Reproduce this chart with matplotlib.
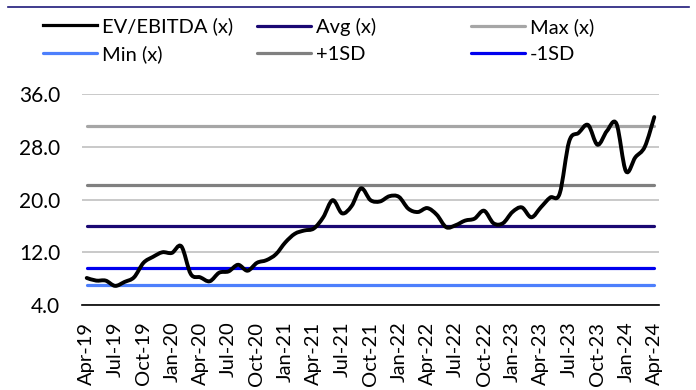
import matplotlib
matplotlib.use("Agg")
import matplotlib.pyplot as plt
from matplotlib.lines import Line2D
from matplotlib.path import Path
from matplotlib.patches import PathPatch

plt.rcParams['font.family'] = ['Lato', 'DejaVu Sans']

# ---- data ----
tick_labels = ["Apr-19", "Jul-19", "Oct-19", "Jan-20", "Apr-20", "Jul-20", "Oct-20",
               "Jan-21", "Apr-21", "Jul-21", "Oct-21", "Jan-22", "Apr-22", "Jul-22",
               "Oct-22", "Jan-23", "Apr-23", "Jul-23", "Oct-23", "Jan-24", "Apr-24"]

ev_ebitda = [8.1, 7.7, 7.7, 6.9, 7.5, 8.2, 10.4, 11.3, 12.0, 11.9,
             12.9, 8.7, 8.2, 7.6, 8.9, 9.1, 10.1, 9.2, 10.4, 10.8,
             11.7, 13.5, 14.8, 15.3, 15.6, 17.3, 19.9, 17.9, 19.0, 21.7,
             19.9, 19.7, 20.5, 20.4, 18.6, 18.1, 18.7, 17.7, 15.8, 16.1,
             16.8, 17.1, 18.3, 16.4, 16.4, 18.1, 18.8, 17.3, 18.8, 20.3,
             20.9, 28.8, 30.1, 31.3, 28.3, 30.4, 31.5, 24.3, 26.4, 28.0,
             32.5]
avg_x = 16.0
max_x = 31.2
min_x = 7.0
plus_1sd = 22.2
minus_1sd = 9.6

n = len(ev_ebitda)
x = list(range(n))

c_ev = "#000000"
c_avg = "#1a0873"
c_max = "#a6a6a6"
c_min = "#4d7ffc"
c_p1 = "#808080"
c_m1 = "#0000ee"

fig = plt.figure(figsize=(6.96, 3.90), dpi=100)
ax = fig.add_axes([82/696, 1-305/390, (659-82)/696, (305-94)/390])

lw_ref = 2.3
l_max, = ax.plot(x, [max_x]*n, color=c_max, lw=lw_ref, solid_capstyle='round', zorder=3)
l_p1, = ax.plot(x, [plus_1sd]*n, color=c_p1, lw=lw_ref, solid_capstyle='round', zorder=3)
l_avg, = ax.plot(x, [avg_x]*n, color=c_avg, lw=lw_ref, solid_capstyle='round', zorder=3)
l_m1, = ax.plot(x, [minus_1sd]*n, color=c_m1, lw=lw_ref, solid_capstyle='round', zorder=3)
l_min, = ax.plot(x, [min_x]*n, color=c_min, lw=lw_ref, solid_capstyle='round', zorder=3)

# smoothed line (Excel-style smoothing: Catmull-Rom as cubic Bezier)
verts = [(x[0], ev_ebitda[0])]
codes = [Path.MOVETO]
for i in range(n - 1):
    p0 = (x[max(i-1, 0)], ev_ebitda[max(i-1, 0)])
    p1 = (x[i], ev_ebitda[i])
    p2 = (x[i+1], ev_ebitda[i+1])
    p3 = (x[min(i+2, n-1)], ev_ebitda[min(i+2, n-1)])
    c1 = (p1[0] + (p2[0]-p0[0])/6, p1[1] + (p2[1]-p0[1])/6)
    c2 = (p2[0] - (p3[0]-p1[0])/6, p2[1] - (p3[1]-p1[1])/6)
    verts += [c1, c2, p2]
    codes += [Path.CURVE4]*3
ev_patch = PathPatch(Path(verts, codes), facecolor='none', edgecolor=c_ev, lw=2.8,
                     joinstyle='round', capstyle='round', zorder=5)
ax.add_patch(ev_patch)
l_ev = Line2D([], [], color=c_ev)

ax.set_xlim(-0.5, n - 0.5)
ax.set_ylim(4, 36)
ax.set_yticks([4, 12, 20, 28, 36])
ax.set_yticklabels(["4.0", "12.0", "20.0", "28.0", "36.0"])
ax.yaxis.grid(True, color="#c0c0c0", lw=1.2)
ax.set_axisbelow(True)
ax.set_xticks(list(range(0, n, 3)))
ax.set_xticklabels(tick_labels, rotation=90)
for s in ["top", "right", "left"]:
    ax.spines[s].set_visible(False)
ax.spines["bottom"].set_color("black")
ax.spines["bottom"].set_linewidth(1.2)
ax.tick_params(axis='y', length=0, pad=15.8, labelsize=15)
ax.tick_params(axis='x', length=0, pad=12, labelsize=14.5)

# title rule at top
fig.add_artist(Line2D([8/696, 689/696], [1-7.3/390, 1-7.3/390], color="#1f1a7a", lw=1.2,
                      transform=fig.transFigure))

# legends (three columns)
fs = 14.5
def mk(handles, labels, xpx):
    leg = fig.legend(handles, labels, loc="center left",
                     bbox_to_anchor=(xpx/696, 1-40.5/390), frameon=False,
                     fontsize=fs, handlelength=2.68, handletextpad=0.25,
                     borderpad=0, borderaxespad=0, labelspacing=0.5,
                     alignment="left")
    for h in leg.get_lines():
        h.set_linewidth(2.3)
    return leg

mk([l_ev, l_min], ["EV/EBITDA (x)", "Min (x)"], 43)
mk([l_avg, l_p1], ["Avg (x)", "+1SD"], 257)
mk([l_max, l_m1], ["Max (x)", "-1SD"], 471)

fig.savefig("out.png", dpi=100)
